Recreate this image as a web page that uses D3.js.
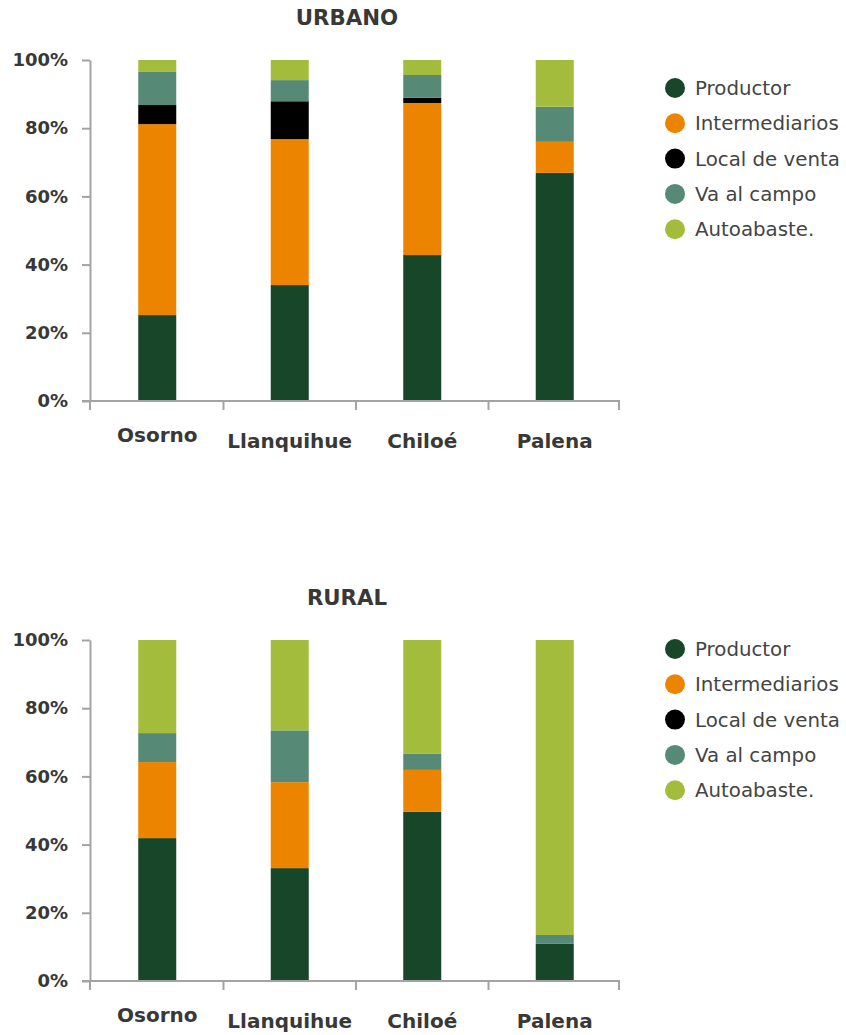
<!DOCTYPE html>
<html>
<head>
<meta charset="utf-8">
<script src="https://cdn.jsdelivr.net/npm/d3@7"></script>
<style>
  html, body { margin: 0; padding: 0; background: #fff; }
  svg { display: block; }
  text { font-family: "DejaVu Sans", sans-serif; }
</style>
</head>
<body>
<svg id="chart" width="846" height="1035"></svg>
<script>
// ---- Data ----
const categories = ["Osorno", "Llanquihue", "Chiloé", "Palena"];
const seriesNames = ["Productor", "Intermediarios", "Local de venta", "Va al campo", "Autoabaste."];
const seriesColors = ["#174628", "#EC8400", "#000000", "#568A77", "#A3BC3B"];
const yTickValues = [0, 20, 40, 60, 80, 100];

// URBANO (%)
const urbanoProductor      = [25.2, 34.0, 42.8, 66.9];
const urbanoIntermediarios = [56.0, 42.8, 44.6, 9.1];
const urbanoLocal          = [5.6, 11.1, 1.5, 0];
const urbanoVaCampo        = [9.7, 6.2, 6.7, 10.3];
const urbanoAutoabaste     = [3.5, 5.9, 4.4, 13.7];

// RURAL (%)
const ruralProductor      = [41.9, 33.1, 49.6, 10.9];
const ruralIntermediarios = [22.3, 25.2, 12.3, 0];
const ruralLocal          = [0, 0, 0, 0];
const ruralVaCampo        = [8.5, 15.2, 4.7, 2.6];
const ruralAutoabaste     = [27.3, 26.5, 33.4, 86.5];

const charts = [
  { title: "URBANO", series: [urbanoProductor, urbanoIntermediarios, urbanoLocal, urbanoVaCampo, urbanoAutoabaste], top: 0 },
  { title: "RURAL",  series: [ruralProductor, ruralIntermediarios, ruralLocal, ruralVaCampo, ruralAutoabaste], top: 580 }
];

const svg = d3.select("#chart");
const axisColor = "#A3A3A3";
const textColor = "#383838";

charts.forEach(ch => {
  const g = svg.append("g").attr("transform", `translate(0,${ch.top})`);

  const rows = categories.map((c, i) => {
    const o = { cat: c };
    seriesNames.forEach((s, k) => { o[s] = ch.series[k][i]; });
    return o;
  });
  const stack = d3.stack().keys(seriesNames)(rows);

  const axisX0 = 90, axisX1 = 619;
  const x = d3.scaleBand().domain(categories).range([91, 621]).padding(0);
  const y = d3.scaleLinear().domain([0, 100]).range([401, 60]);
  const barW = 38;

  // title
  g.append("text")
    .attr("x", 347).attr("y", 25)
    .attr("text-anchor", "middle")
    .attr("font-size", 21.3).attr("font-weight", "bold")
    .attr("fill", textColor)
    .text(ch.title);

  // bars
  stack.forEach((layer, k) => {
    g.append("g").attr("fill", seriesColors[k])
      .selectAll("rect")
      .data(layer.filter(d => d[1] - d[0] > 0))
      .join("rect")
      .attr("x", d => x(d.data.cat) + x.bandwidth() / 2 - barW / 2)
      .attr("width", barW)
      .attr("y", d => y(d[1]))
      .attr("height", d => y(d[0]) - y(d[1]));
  });

  // y axis
  const yAxis = d3.axisLeft(y).tickValues(yTickValues).tickFormat(d => d + "%").tickSize(8).tickSizeOuter(0);
  const ya = g.append("g").attr("transform", `translate(${axisX0},0)`).call(yAxis);
  ya.select(".domain").attr("stroke", axisColor).attr("stroke-width", 2);
  ya.selectAll(".tick line").attr("stroke", axisColor).attr("stroke-width", 2);
  ya.selectAll(".tick text")
    .attr("x", -22)
    .attr("font-size", 18).attr("font-weight", "bold")
    .attr("fill", textColor)
    .attr("font-family", "DejaVu Sans, sans-serif");

  // x axis (ticks at band edges)
  const xa = g.append("g");
  xa.append("line")
    .attr("x1", 82).attr("x2", axisX1 + 1)
    .attr("y1", y(0)).attr("y2", y(0))
    .attr("stroke", axisColor).attr("stroke-width", 2);
  const edges = [axisX0].concat(categories.slice(1).map(c => x(c))).concat([axisX1]);
  xa.selectAll("line.edge").data(edges).join("line")
    .attr("class", "edge")
    .attr("x1", d => d).attr("x2", d => d)
    .attr("y1", y(0)).attr("y2", y(0) + 9)
    .attr("stroke", axisColor).attr("stroke-width", 2);
  xa.selectAll("text.cat").data(categories).join("text")
    .attr("class", "cat")
    .attr("x", d => x(d) + x.bandwidth() / 2)
    .attr("y", (d, i) => y(0) + (i === 0 ? 41 : 47))
    .attr("text-anchor", "middle")
    .attr("font-size", 20).attr("font-weight", "bold")
    .attr("fill", textColor)
    .text(d => d);

  // legend
  const legendY0 = ch.top === 0 ? 88 : 69;
  const lg = g.append("g");
  seriesNames.forEach((s, k) => {
    const ly = legendY0 + k * 35.3;
    lg.append("circle").attr("cx", 675).attr("cy", ly).attr("r", 10).attr("fill", seriesColors[k]);
    lg.append("text").attr("x", 695).attr("y", ly + 7)
      .attr("font-size", 19.8).attr("fill", "#444")
      .text(s);
  });
});
</script>
</body>
</html>
